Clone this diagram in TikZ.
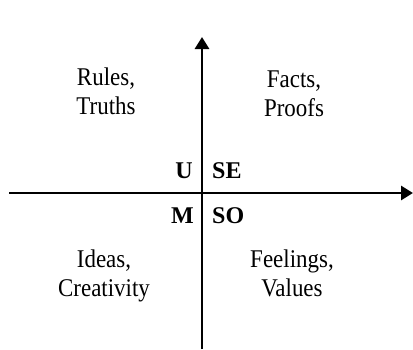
\documentclass[tikz,border=0pt]{standalone}
\usepackage{fontspec}
\setmainfont{Liberation Serif}
\newfontfamily\quadfont{Liberation Serif}[FakeStretch=0.9]
\usetikzlibrary{arrows.meta}

\begin{document}
\begin{tikzpicture}[
x=1pt, y=-1pt,
axis/.style={line width=2.8pt,-{Triangle[length=12pt,width=14pt]}},
quad/.style={align=center,inner sep=0pt,font=\quadfont\fontsize{25.5}{29}\selectfont},
tag/.style={inner sep=0pt,font=\fontsize{24}{28}\selectfont\bfseries}
]
\useasboundingbox (0,0) rectangle (413,349);

% axes
\coordinate (o) at (202,193);
\coordinate (left) at (9,193);
\coordinate (right) at (413,193);
\coordinate (bottom) at (202,349);
\coordinate (top) at (202,37);
\draw[axis] (left) -- (right);
\draw[axis] (bottom) -- (top);

% quadrant texts
\node[quad] (rules) at (106,91) {Rules,\\Truths};
\node[quad] (facts) at (294,93.5) {Facts,\\Proofs};
\node[quad] (ideas) at (104,275.5) {Ideas,\\Creativity};
\node[quad] (feel) at (292,273) {Feelings,\\Values};

% letters round the origin
\node[tag,anchor=base east,xshift=-9pt,yshift=15pt] (u) at (o) {U};
\node[tag,anchor=base west,xshift=10pt,yshift=15pt] (se) at (o) {SE};
\node[tag,anchor=base east,xshift=-8pt,yshift=-30pt] (m) at (o) {M};
\node[tag,anchor=base west,xshift=10pt,yshift=-30pt] (so) at (o) {SO};
\end{tikzpicture}
\end{document}
